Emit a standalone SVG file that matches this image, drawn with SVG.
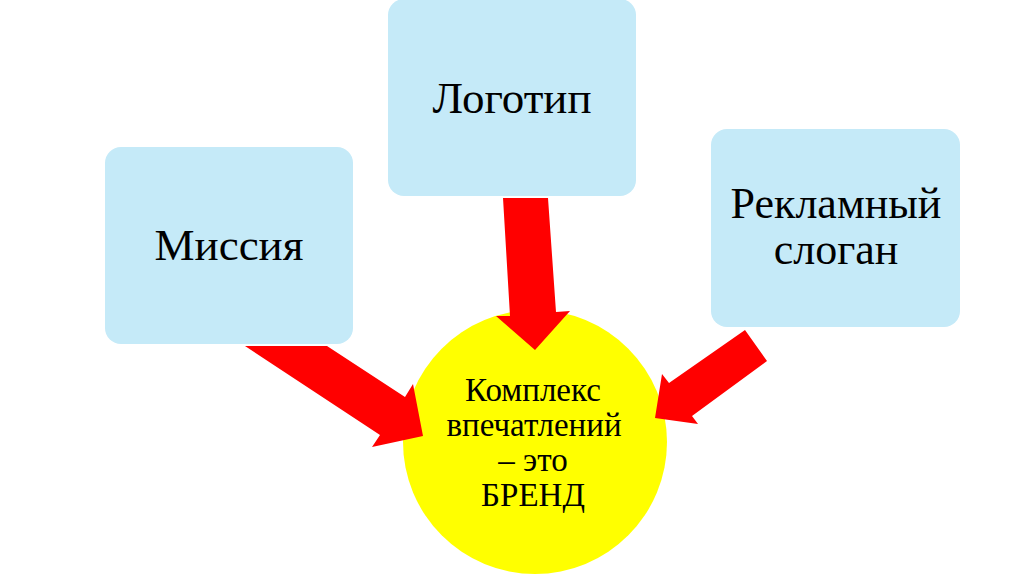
<svg xmlns="http://www.w3.org/2000/svg" width="1024" height="574" viewBox="0 0 1024 574">
<style>
.box{fill:#C5EAF8;}
.arrow{fill:#FF0000;}
.t{font-family:"Liberation Serif","Times New Roman",serif;fill:#000;text-anchor:middle;}
.big{font-size:45px;}
.mid{font-size:44px;}
.small{font-size:33px;}
</style>
<rect width="1024" height="574" fill="#FFFFFF"/>
<g id="brand">
<circle cx="535" cy="442" r="132" fill="#FFFF00"/>
<text class="t small" x="533" y="401">Комплекс</text>
<text class="t small" x="534" y="436">впечатлений</text>
<text class="t small" x="533" y="471">– это</text>
<text class="t small" x="533" y="506">БРЕНД</text>
</g>
<g id="connectors">
<polygon class="arrow" points="245,346 327,346 405,397 413,384 423,436 372,447 380,435"/>
<polygon class="arrow" points="503,198 548,198 556,312 570,311 535,350 496,316 510,316"/>
<polygon class="arrow" points="745,330 767,361 692,416 698,424 655,418 662,374 669,383"/>
</g>
<g id="mission">
<rect class="box" x="105" y="147" width="248" height="197" rx="16"/>
<text class="t big" x="229" y="260">Миссия</text>
</g>
<g id="logo">
<rect class="box" x="388" y="-1" width="248" height="197" rx="16"/>
<text class="t big" x="512" y="113">Логотип</text>
</g>
<g id="slogan">
<rect class="box" x="711" y="129" width="249" height="198" rx="16"/>
<text class="t mid" x="836" y="218">Рекламный</text>
<text class="t mid" x="836" y="264">слоган</text>
</g>
</svg>
